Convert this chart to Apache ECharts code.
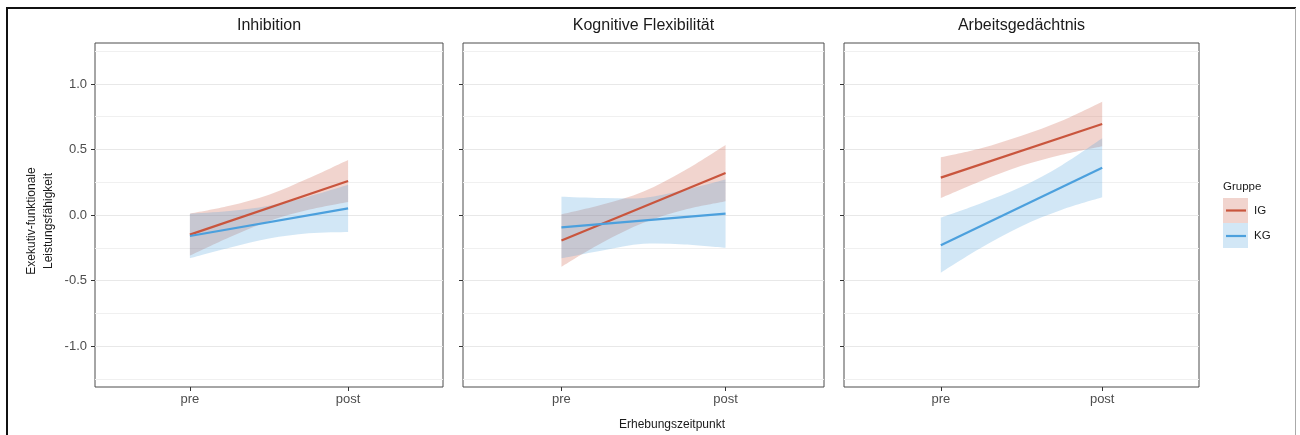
<!DOCTYPE html>
<html><head><meta charset="utf-8">
<script src="https://cdn.jsdelivr.net/npm/echarts@6/dist/echarts.min.js"></script>
<style>html,body{margin:0;padding:0;background:#fff}#c{width:1300px;height:435px}</style>
</head><body><div id="c"></div>
<script>
// ---------- data ----------
const panelTitles = ['Inhibition', 'Kognitive Flexibilität', 'Arbeitsgedächtnis'];
const groupNames = ['IG', 'KG'];
const xCategories = ['pre', 'post'];
const yMajorTicks = [-1, -0.5, 0, 0.5, 1];
const yTickLabels = ['-1.0', '-0.5', '0.0', '0.5', '1.0'];
const yMinorTicks = [-1.25, -0.75, -0.25, 0.25, 0.75, 1.25];
const legendTitle = 'Gruppe';
const yTitle = 'Exekutiv-funktionale\nLeistungsfähigkeit';
const xTitle = 'Erhebungszeitpunkt';

// fraction of the way from pre (0) to post (1) at which the band edges were read
const bandTime = [0, 0.25, 0.5, 0.75, 1];

// fitted lines [pre, post] per panel
const igLine = [[-0.15, 0.26], [-0.195, 0.32], [0.285, 0.695]];
const kgLine = [[-0.16, 0.05], [-0.095, 0.01], [-0.23, 0.36]];

// confidence bands per panel (values at bandTime)
const igUpper = [[0.01, 0.07, 0.155, 0.28, 0.42], [0.005, 0.08, 0.18, 0.34, 0.535], [0.44, 0.51, 0.605, 0.72, 0.865]];
const igLower = [[-0.31, -0.17, -0.045, 0.04, 0.10], [-0.395, -0.21, -0.06, 0.04, 0.105], [0.13, 0.26, 0.375, 0.46, 0.525]];
const kgUpper = [[0.01, 0.03, 0.07, 0.14, 0.23], [0.14, 0.13, 0.13, 0.19, 0.27], [-0.02, 0.09, 0.215, 0.38, 0.585]];
const kgLower = [[-0.33, -0.25, -0.18, -0.14, -0.13], [-0.33, -0.27, -0.22, -0.225, -0.25], [-0.44, -0.25, -0.085, 0.04, 0.135]];

// ---------- chart ----------
const FONT = '"Liberation Sans", Arial, Helvetica, sans-serif';
const colIG = '#c9553d', colKG = '#4ca0dd';
const fillIG = 'rgba(201,85,61,0.25)', fillKG = 'rgba(76,160,221,0.25)';
const LINE_W = 2.2;
const gridPos = [{ left: 95, width: 348 }, { left: 463, width: 361 }, { left: 844, width: 355 }];
const TOP = 43, HEIGHT = 344;
const YMIN = -1.3125, YMAX = 1.3125;

const grid = [], xAxis = [], yAxis = [], series = [], title = [];

// smooth curve (Catmull-Rom as cubic Bezier) through pixel points
function curveSegs(pts) {
  let d = '';
  const n = pts.length;
  for (let k = 0; k < n - 1; k++) {
    const p0 = pts[Math.max(k - 1, 0)], p1 = pts[k], p2 = pts[k + 1], p3 = pts[Math.min(k + 2, n - 1)];
    const c1x = p1[0] + (p2[0] - p0[0]) / 6, c1y = p1[1] + (p2[1] - p0[1]) / 6;
    const c2x = p2[0] - (p3[0] - p1[0]) / 6, c2y = p2[1] - (p3[1] - p1[1]) / 6;
    d += ' C' + c1x + ',' + c1y + ' ' + c2x + ',' + c2y + ' ' + p2[0] + ',' + p2[1];
  }
  return d;
}

function bandSeries(i, upper, lower, fill) {
  series.push({
    type: 'custom', xAxisIndex: i, yAxisIndex: 2 * i, silent: true, clip: false,
    data: [[1.5, 0]],
    renderItem: function (params, api) {
      const up = bandTime.map((t, k) => api.coord([1 + t, upper[k]]));
      const lo = bandTime.map((t, k) => api.coord([1 + t, lower[k]])).reverse();
      const d = 'M' + up[0][0] + ',' + up[0][1] + curveSegs(up) +
        ' L' + lo[0][0] + ',' + lo[0][1] + curveSegs(lo) + ' Z';
      return { type: 'path', shape: { pathData: d }, style: { fill: fill, stroke: null } };
    }
  });
}
function lineSeries(i, vals, color) {
  series.push({
    type: 'line', xAxisIndex: i, yAxisIndex: 2 * i, symbol: 'none', silent: true,
    data: vals.map((v, k) => [k + 1, v]), lineStyle: { color: color, width: LINE_W },
    emphasis: { disabled: true }
  });
}

gridPos.forEach((g, i) => {
  grid.push({ left: g.left, width: g.width, top: TOP, height: HEIGHT, show: true,
    borderColor: '#4d4d4d', borderWidth: 1, backgroundColor: 'transparent' });
  title.push({ text: panelTitles[i], left: g.left + g.width / 2, top: 17, textAlign: 'center', padding: 0,
    textStyle: { fontFamily: FONT, fontSize: 16, fontWeight: 'normal', color: '#1a1a1a', lineHeight: 18 } });
  xAxis.push({
    type: 'value', gridIndex: i, min: 0.4, max: 2.6, position: 'bottom',
    axisLine: { show: false, onZero: false },
    axisTick: { show: true, customValues: [1, 2], length: 4, lineStyle: { color: '#333', width: 1 } },
    axisLabel: { customValues: [1, 2], formatter: v => xCategories[Math.round(v) - 1],
      color: '#4d4d4d', fontSize: 13, fontFamily: FONT, margin: 6 },
    splitLine: { show: false }
  });
  yAxis.push({
    type: 'value', gridIndex: i, min: YMIN, max: YMAX, position: 'left',
    axisLine: { show: false, onZero: false },
    axisTick: { show: true, customValues: yMajorTicks, length: 4, lineStyle: { color: '#333', width: 1 } },
    axisLabel: { show: i === 0, customValues: yMajorTicks,
      formatter: v => yTickLabels[yMajorTicks.indexOf(v)],
      color: '#4d4d4d', fontSize: 13, fontFamily: FONT, margin: 8 },
    splitLine: { show: true, lineStyle: { color: '#e8e8e8', width: 1 } }
  });
  yAxis.push({
    type: 'value', gridIndex: i, min: YMIN, max: YMAX, position: 'left',
    axisLine: { show: false, onZero: false },
    axisTick: { show: false, customValues: yMinorTicks },
    axisLabel: { show: false, customValues: yMinorTicks },
    splitLine: { show: true, lineStyle: { color: '#f0f0f0', width: 1 } }
  });
  bandSeries(i, igUpper[i], igLower[i], fillIG);
  lineSeries(i, igLine[i], colIG);
  bandSeries(i, kgUpper[i], kgLower[i], fillKG);
  lineSeries(i, kgLine[i], colKG);
});

const graphic = [
  // outer frame
  { type: 'line', shape: { x1: 6, y1: 8, x2: 1296, y2: 8 }, style: { stroke: '#111', lineWidth: 2 } },
  { type: 'line', shape: { x1: 7, y1: 8, x2: 7, y2: 440 }, style: { stroke: '#111', lineWidth: 2 } },
  { type: 'line', shape: { x1: 1295.5, y1: 8, x2: 1295.5, y2: 440 }, style: { stroke: '#aaa', lineWidth: 1 } },
  // axis titles
  { type: 'text', x: 40, y: 221, rotation: Math.PI / 2,
    style: { text: yTitle, fill: '#1a1a1a', font: '12px ' + FONT, textAlign: 'center', textVerticalAlign: 'middle', lineHeight: 16.5 } },
  { type: 'text', x: 672, y: 425,
    style: { text: xTitle, fill: '#1a1a1a', font: '12px ' + FONT, textAlign: 'center', textVerticalAlign: 'middle' } },
  // legend
  { type: 'text', x: 1223, y: 187,
    style: { text: legendTitle, fill: '#1a1a1a', font: '11.5px ' + FONT, textAlign: 'left', textVerticalAlign: 'middle' } },
  { type: 'rect', shape: { x: 1223, y: 198, width: 25, height: 25 }, style: { fill: fillIG } },
  { type: 'line', shape: { x1: 1226, y1: 210.5, x2: 1246, y2: 210.5 }, style: { stroke: colIG, lineWidth: LINE_W } },
  { type: 'text', x: 1254, y: 211,
    style: { text: groupNames[0], fill: '#1a1a1a', font: '11.5px ' + FONT, textAlign: 'left', textVerticalAlign: 'middle' } },
  { type: 'rect', shape: { x: 1223, y: 223, width: 25, height: 25 }, style: { fill: fillKG } },
  { type: 'line', shape: { x1: 1226, y1: 236, x2: 1246, y2: 236 }, style: { stroke: colKG, lineWidth: LINE_W } },
  { type: 'text', x: 1254, y: 236,
    style: { text: groupNames[1], fill: '#1a1a1a', font: '11.5px ' + FONT, textAlign: 'left', textVerticalAlign: 'middle' } }
];

const chart = echarts.init(document.getElementById('c'), null, { renderer: 'canvas' });
chart.setOption({
  animation: false,
  backgroundColor: '#ffffff',
  textStyle: { fontFamily: FONT },
  title, grid, xAxis, yAxis, series, graphic
});
</script>
</body></html>
